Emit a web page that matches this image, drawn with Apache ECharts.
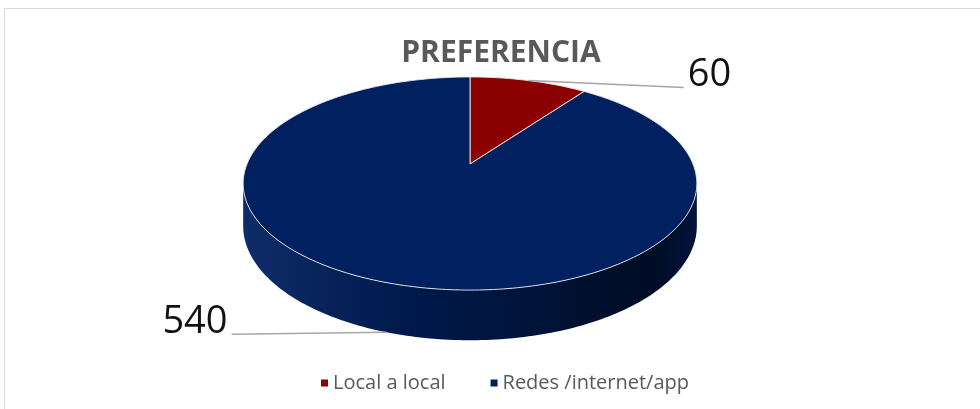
<!doctype html>
<html>
<head>
<meta charset="UTF-8">
<title>PREFERENCIA</title>
<style>
	html, body { margin: 0; padding: 0; background: #fff; }
	#main { width: 980px; height: 409px; }
</style>
</head>
<body>
<div id="main"></div>
<script src="https://cdn.jsdelivr.net/npm/echarts@6/dist/echarts.min.js"></script>
<script>
var titleText = 'PREFERENCIA';
var categories = ['Local a local', 'Redes /internet/app'];
var values = [60, 540];
var colors = ['#8b0000', '#002060'];

// geometria del "pastel 3D" (elipse con perspectiva)
var CX = 470, CY = 164;
var RX = 223, RY = 103;
var PERSP = 0.183;
var DEPTH = 41;
var FONT = '"Open Sans", "Liberation Sans", sans-serif';

var total = values.reduce(function(s, v) { return s + v; }, 0);
var startAngles = [], endAngles = [];
var acc = 0;
values.forEach(function(v) {
	startAngles.push(acc / total * Math.PI * 2);
	acc += v;
	endAngles.push(acc / total * Math.PI * 2);
});

// angulo en sentido horario desde las 12
function rimPoint(a, drop) {
	var c = Math.cos(a), s = Math.sin(a);
	var k = 1 + PERSP * c;
	return [CX + RX * s / k, CY + (drop - RY * c) / k];
}
function arcPoints(a0, a1, drop) {
	var n = Math.max(2, Math.ceil((a1 - a0) / (Math.PI / 180)));
	var pts = [];
	for (var i = 0; i <= n; i++) {
		pts.push(rimPoint(a0 + (a1 - a0) * i / n, drop));
	}
	return pts;
}
function shade(hex, t) {
	var c = echarts.color.parse(hex);
	var r, g, b;
	if (t >= 0) {
		r = c[0] + (255 - c[0]) * t; g = c[1] + (255 - c[1]) * t; b = c[2] + (255 - c[2]) * t;
	} else {
		r = c[0] * (1 + t); g = c[1] * (1 + t); b = c[2] * (1 + t);
	}
	return 'rgb(' + Math.round(r) + ',' + Math.round(g) + ',' + Math.round(b) + ')';
}

var SIL0 = Math.acos(-PERSP);
var SIL1 = Math.PI * 2 - SIL0;

function renderSide(params, api) {
	var i = api.value(1);
	var lo = Math.max(startAngles[i], SIL0);
	var hi = Math.min(endAngles[i], SIL1);
	if (hi <= lo) return { type: 'group', children: [] };
	var pts = arcPoints(lo, hi, 0).concat(arcPoints(lo, hi, DEPTH).reverse());
	var base = colors[i];
	return {
		type: 'polygon',
		shape: { points: pts },
		style: {
			fill: new echarts.graphic.LinearGradient(CX - RX - 8, 0, CX + RX + 8, 0, [
				{ offset: 0, color: shade(base, 0.06) },
				{ offset: 0.35, color: shade(base, -0.2) },
				{ offset: 0.65, color: shade(base, -0.42) },
				{ offset: 0.88, color: shade(base, -0.62) },
				{ offset: 1, color: shade(base, -0.4) }
			], true),
			stroke: null
		}
	};
}

function renderTop(params, api) {
	var v = api.value(0);
	var i = api.value(1);
	var a0 = startAngles[i], a1 = endAngles[i];
	var pts = [[CX, CY]].concat(arcPoints(a0, a1, 0));
	var m = (a0 + a1) / 2;
	var front = Math.cos(m) < 0;
	var anchor = rimPoint(m, front ? DEPTH : 0);
	var dir = Math.sin(m) >= 0 ? 1 : -1;
	var end = [anchor[0] + dir * 155, anchor[1] + (front ? 2 : 7)];
	return {
		type: 'group',
		children: [{
			type: 'polygon',
			shape: { points: pts },
			style: { fill: colors[i], stroke: 'rgba(235,235,235,0.9)', lineWidth: 1 }
		}, {
			type: 'line',
			shape: { x1: anchor[0], y1: anchor[1], x2: end[0], y2: end[1] },
			style: { stroke: '#a6a6a6', lineWidth: 1.5 }
		}, {
			type: 'text',
			x: end[0] + dir * 4,
			y: end[1] - 12,
			style: {
				text: String(v),
				fill: '#111',
				font: '38px ' + FONT,
				align: dir > 0 ? 'left' : 'right',
				verticalAlign: 'middle'
			}
		}]
	};
}

var series = [{
	type: 'custom',
	name: 'side',
	coordinateSystem: 'none',
	renderItem: renderSide,
	z: 1,
	silent: true,
	data: values.map(function(v, i) { return [v, i]; })
}];
categories.forEach(function(name, i) {
	series.push({
		type: 'custom',
		name: name,
		coordinateSystem: 'none',
		renderItem: renderTop,
		itemStyle: { color: colors[i] },
		z: 2,
		data: [{ name: name, value: [values[i], i] }]
	});
});

var chart = echarts.init(document.getElementById('main'));
chart.setOption({
	animation: false,
	backgroundColor: '#fff',
	graphic: [{
		type: 'rect',
		shape: { x: 4.5, y: 8.5, width: 1100, height: 600 },
		style: { fill: 'none', stroke: '#d9d9d9', lineWidth: 1 }
	}, {
		type: 'text',
		x: 501,
		y: 53,
		style: {
			text: titleText,
			fill: '#595959',
			font: 'bold 30px ' + FONT,
			align: 'center',
			verticalAlign: 'middle'
		}
	}],
	legend: {
		data: categories,
		left: 316,
		top: 368,
		icon: 'rect',
		itemWidth: 7,
		itemHeight: 7,
		itemGap: 45,
		textStyle: { fontFamily: 'Open Sans', fontSize: 20, color: '#595959' }
	},
	series: series
});
</script>
</body>
</html>
